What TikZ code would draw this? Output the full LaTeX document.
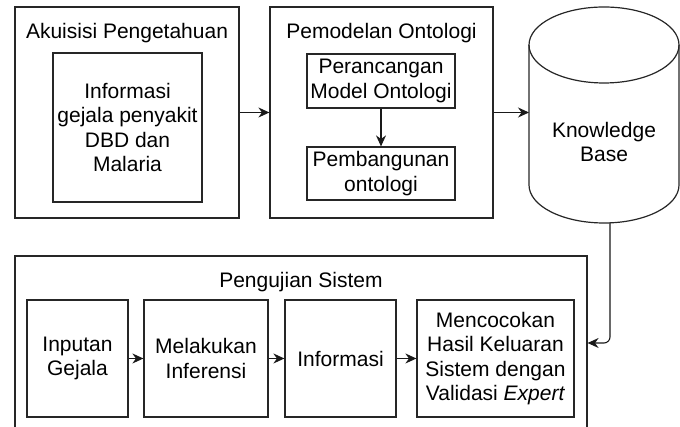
\documentclass[tikz,border=0pt]{standalone}
\usepackage{fontspec}
\setmainfont{Liberation Sans}
\usetikzlibrary{arrows.meta}
\begin{document}
\begin{tikzpicture}[x=1pt,y=1pt,
  every node/.style={font=\fontsize{21}{24.5}\selectfont,align=center,inner sep=0pt},
  outer/.style={draw=black!85,line width=1.2pt},
  inner/.style={draw=black!85,line width=1.2pt},
  flow/.style={-{Stealth[length=11pt,width=10pt]},line width=1.1pt,black!90}]
  \useasboundingbox (0,0) rectangle (680,427);
  \clip (0,0) rectangle (680,427);
  % top row
  \node[outer,minimum width=224,minimum height=211] (akuisisi) at (127,314.5) {};
  \node (ttlakuisisi) at (127,394) {Akuisisi Pengetahuan};
  \node[inner,minimum width=149,minimum height=149] (gejala) at (127.5,299.5) {Informasi\\gejala penyakit\\DBD dan\\Malaria};
  \node[outer,minimum width=223,minimum height=211] (pemodelan) at (381.5,314.5) {};
  \node (ttlpemodelan) at (381.5,394) {Pemodelan Ontologi};
  \node[inner,minimum width=148,minimum height=54] (rancang) at (381,346) {Perancangan\\Model Ontologi};
  \node[inner,minimum width=148,minimum height=53] (bangun) at (381,253.5) {Pembangunan\\ontologi};
  % knowledge base
  \draw[line width=1.2pt,black!85] (604,382) ellipse (75 and 38);
  \draw[line width=1.2pt,black!85] (529,382) -- (529,242) arc (180:360:75 and 38) -- (679,382);
  \node (kb) at (604,285) {Knowledge\\Base};
  \coordinate (kbw) at (529,314.5);
  \coordinate (kbs) at (610,204.3);
  % bottom row
  \node[outer,minimum width=572,minimum height=191] (pengujian) at (301,75.5) {};
  \node (ttlpengujian) at (301,145) {Pengujian Sistem};
  \node[inner,minimum width=101,minimum height=117] (inputan) at (77.5,68.5) {Inputan\\Gejala};
  \node[inner,minimum width=124,minimum height=117] (inferensi) at (206,68.5) {Melakukan\\Inferensi};
  \node[inner,minimum width=111,minimum height=117] (informasi) at (340.5,68.5) {Informasi};
  \node[inner,minimum width=157,minimum height=117] (cocok) at (495.5,68.5) {Mencocokan\\Hasil Keluaran\\Sistem dengan\\Validasi \textit{Expert}};
  \path [flow] (akuisisi) edge (pemodelan);
  \path [flow] (rancang) edge (bangun);
  \path [flow] (pemodelan.east) edge (kbw);
  \draw [flow,rounded corners=6pt] (kbs) |- ([yshift=8.5pt]pengujian.east);
  \path [flow] (inputan) edge (inferensi);
  \path [flow] (inferensi) edge (informasi);
  \path [flow] (informasi) edge (cocok);
\end{tikzpicture}
\end{document}
